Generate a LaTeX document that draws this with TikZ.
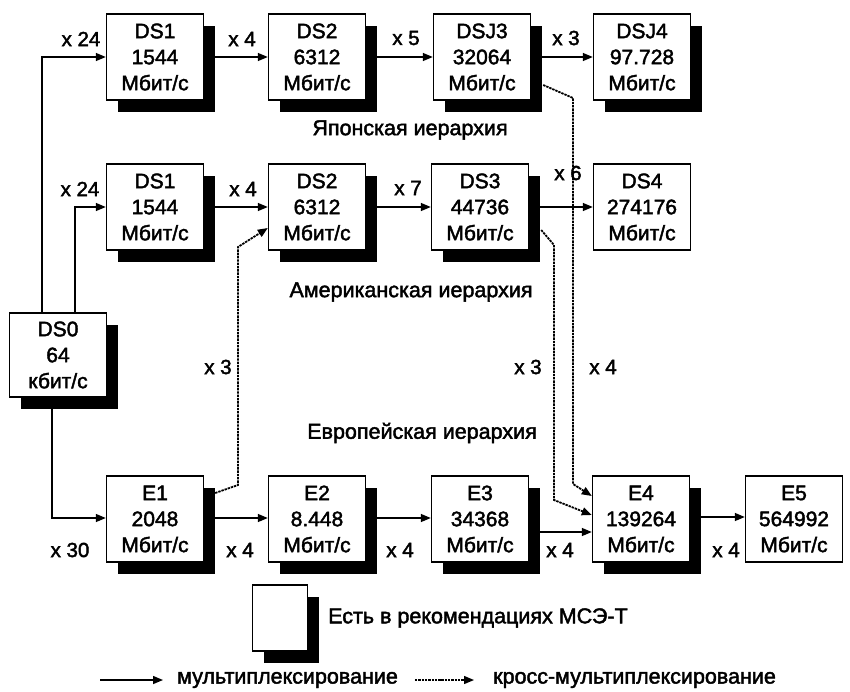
\documentclass[tikz,border=0pt]{standalone}
\usepackage{fontspec}
\setmainfont{Liberation Sans}[BoldFont={Liberation Sans}, BoldFeatures={FakeBold=2}]
\usetikzlibrary{shadows,arrows.meta,calc}
\begin{document}
\begin{tikzpicture}[x=1pt,y=-1pt,
  box/.style={draw, line width=1.4pt, fill=white, minimum width=97pt, minimum height=86pt, align=center, font=\fontsize{21}{26}\selectfont\bfseries, inner sep=0pt},
  shbox/.style={box, drop shadow={shadow xshift=11pt, shadow yshift=-12pt, fill=black, opacity=1}},
  mux/.style={line width=1.4pt, -{Triangle[length=10pt,width=8pt]}},
  cross/.style={line width=1.8pt, dash pattern=on 2.4pt off 0.9pt, -{Triangle[length=10pt,width=8pt]}},
  lbl/.style={font=\fontsize{20.5}{24}\selectfont\bfseries, inner sep=0pt},
  title/.style={font=\fontsize{21.5}{26}\selectfont\bfseries, inner sep=0pt},
]
\useasboundingbox (0,0) rectangle (850,691);
% Japanese
\node[shbox] (j1) at (155,57) {DS1\\1544\\Мбит/с};
\node[shbox] (j2) at (317,57) {DS2\\6312\\Мбит/с};
\node[shbox] (j3) at (482,57) {DSJ3\\32064\\Мбит/с};
\node[shbox] (j4) at (642,57) {DSJ4\\97.728\\Мбит/с};
% American
\node[shbox] (a1) at (155,207) {DS1\\1544\\Мбит/с};
\node[shbox] (a2) at (317,207) {DS2\\6312\\Мбит/с};
\node[shbox] (a3) at (480,207) {DS3\\44736\\Мбит/с};
\node[box] (a4) at (642,207) {DS4\\274176\\Мбит/с};
% DS0
\node[shbox, minimum height=84pt] (d0) at (58,355) {DS0\\64\\кбит/с};
% European
\node[shbox] (e1) at (155,519) {E1\\2048\\Мбит/с};
\node[shbox] (e2) at (317,519) {E2\\8.448\\Мбит/с};
\node[shbox] (e3) at (480,519) {E3\\34368\\Мбит/с};
\node[shbox] (e4) at (641,519) {E4\\139264\\Мбит/с};
\node[box] (e5) at (794,519) {E5\\564992\\Мбит/с};

% connectors from DS0
\draw[mux] ([xshift=-16pt]d0.north) |- (j1.west);
\draw[mux] ([xshift=17pt]d0.north) |- (a1.west);
\draw[mux] ([xshift=-6pt]d0.south) |- ([yshift=1pt]e1.west);
% rows
\draw[mux] (j1.east) -- (j2.west);
\draw[mux] (j2.east) -- (j3.west);
\draw[mux] (j3.east) -- (j4.west);
\draw[mux] (a1.east) -- (a2.west);
\draw[mux] (a2.east) -- (a3.west);
\draw[mux] (a3.east) -- (a4.west);
\draw[mux] ([yshift=1pt]e1.east) -- ([yshift=1pt]e2.west);
\draw[mux] ([yshift=1pt]e2.east) -- ([yshift=1pt]e3.west);
\draw[mux] ([yshift=-13pt]e3.east) -- ([yshift=-13pt]e4.west);
\draw[mux] ([yshift=2pt]e4.east) -- ([yshift=2pt]e5.west);
% cross multiplexing
\draw[cross] ([xshift=11pt,yshift=26pt]e1.east) -- (238,485) -- (238,247) -- ([yshift=-21pt]a2.west);
\draw[cross] ([xshift=12pt,yshift=-23pt]a3.east) -- (554,245) -- (554,500) -- ([yshift=4pt]e4.west);
\draw[cross] ([xshift=12pt,yshift=-28pt]j3.east) -- (573,98) -- (573,484) -- ([yshift=23pt]e4.west);

% labels
\node[lbl] at (81,39) {x 24};
\node[lbl] at (242,39) {x 4};
\node[lbl] at (406,38) {x 5};
\node[lbl] at (566,38) {x 3};
\node[lbl] at (80,189) {x 24};
\node[lbl] at (243,189) {x 4};
\node[lbl] at (408,188) {x 7};
\node[lbl] at (568,173) {x 6};
\node[lbl] at (218,367) {x 3};
\node[lbl] at (528,367) {x 3};
\node[lbl] at (603,367) {x 4};
\node[lbl] at (70,550) {x 30};
\node[lbl] at (240,550) {x 4};
\node[lbl] at (400,550) {x 4};
\node[lbl] at (560,550) {x 4};
\node[lbl] at (726,550) {x 4};

\node[title] at (410,130) {Японская иерархия};
\node[title] at (411,292) {Американская иерархия};
\node[title] at (422,433) {Европейская иерархия};

% legend
\node[draw, line width=1.4pt, fill=white, minimum width=55pt, minimum height=66pt, inner sep=0pt,
  drop shadow={shadow xshift=11pt, shadow yshift=-12pt, fill=black, opacity=1}] (leg) at (280,618) {};
\node[title, anchor=west] (legt) at (328,618) {Есть в рекомендациях МСЭ-Т};
\coordinate (m0) at (100,680);
\node[title, anchor=west] (mt) at (177,680) {мультиплексирование};
\draw[mux] (m0) -- ([xshift=-14pt]mt.west);
\coordinate (c0) at (415,680);
\node[title, anchor=west] (ct) at (493,680) {кросс-мультиплексирование};
\draw[cross, line width=1.3pt] (c0) -- ([xshift=-19pt]ct.west);
\end{tikzpicture}
\end{document}
